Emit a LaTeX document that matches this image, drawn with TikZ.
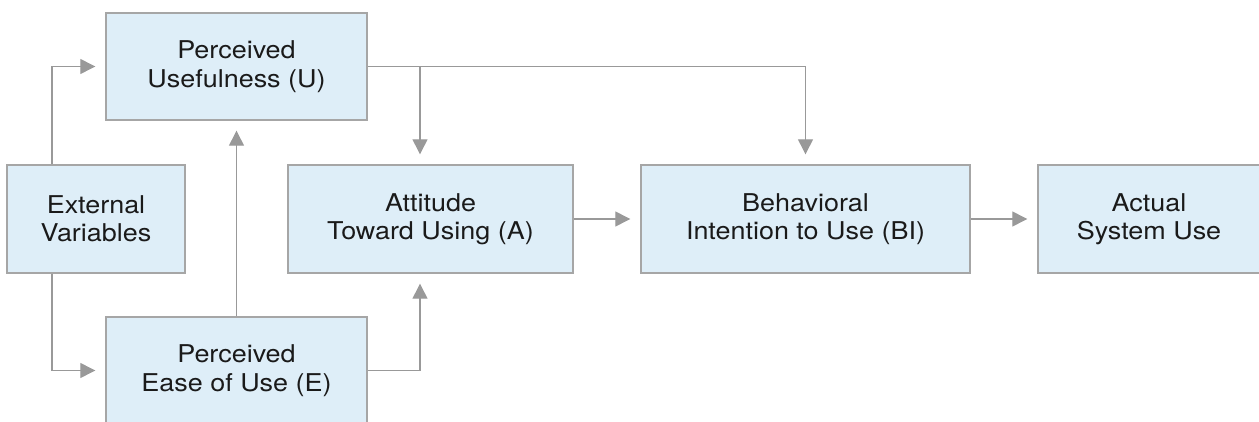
\documentclass[tikz,border=0pt]{standalone}
\usepackage{fontspec}
\setmainfont{TeX Gyre Heros}[FakeStretch=1.1]
\usetikzlibrary{arrows.meta}
\definecolor{boxfill}{RGB}{222,238,248}
\definecolor{boxline}{RGB}{166,166,166}
\definecolor{conn}{RGB}{153,153,153}
\definecolor{txt}{RGB}{26,26,26}
\begin{document}
\begin{tikzpicture}[x=1pt,y=-1pt,
  box/.style={draw=boxline,line width=1.4pt,fill=boxfill,text=txt,align=center,
    inner sep=0pt,font=\fontsize{24.5}{28.5}\selectfont},
  conn/.style={draw=conn,line width=1.3pt,shorten >=10pt,
    -{Triangle[length=15pt,width=15pt]}}]
\useasboundingbox (0,0) rectangle (1259,422);
\begin{scope}
\clip (0,0) rectangle (1259,422);
\node[box,minimum width=261pt,minimum height=107pt] (pu) at (236.5,66.5) {Perceived\\Usefulness (U)};
\node[box,minimum width=178pt,minimum height=108pt] (ext) at (96,219) {External\\Variables};
\node[box,minimum width=261pt,minimum height=107pt] (pe) at (236.5,370.5) {Perceived\\Ease of Use (E)};
\node[box,minimum width=285pt,minimum height=108pt] (att) at (430.5,219) {Attitude\\Toward Using (A)};
\node[box,minimum width=329pt,minimum height=108pt] (bi) at (805.5,219) {Behavioral\\Intention to Use (BI)};
\node[box,minimum width=222pt,minimum height=108pt] (act) at (1149,219) {Actual\\System Use};
\end{scope}
\coordinate (j1) at (420,66.5);
\draw[conn] ([xshift=-44pt]ext.north) |- (pu.west);
\draw[conn] ([xshift=-44pt]ext.south) |- (pe.west);
\draw[conn] (pe.north) -- (pu.south);
\draw[conn] (pu.east) -| (bi.north);
\draw[conn] (j1) -- (j1 |- att.north);
\draw[conn] (pe.east) -| (j1 |- att.south);
\draw[conn] (att.east) -- (bi.west);
\draw[conn] (bi.east) -- (act.west);
\end{tikzpicture}
\end{document}
